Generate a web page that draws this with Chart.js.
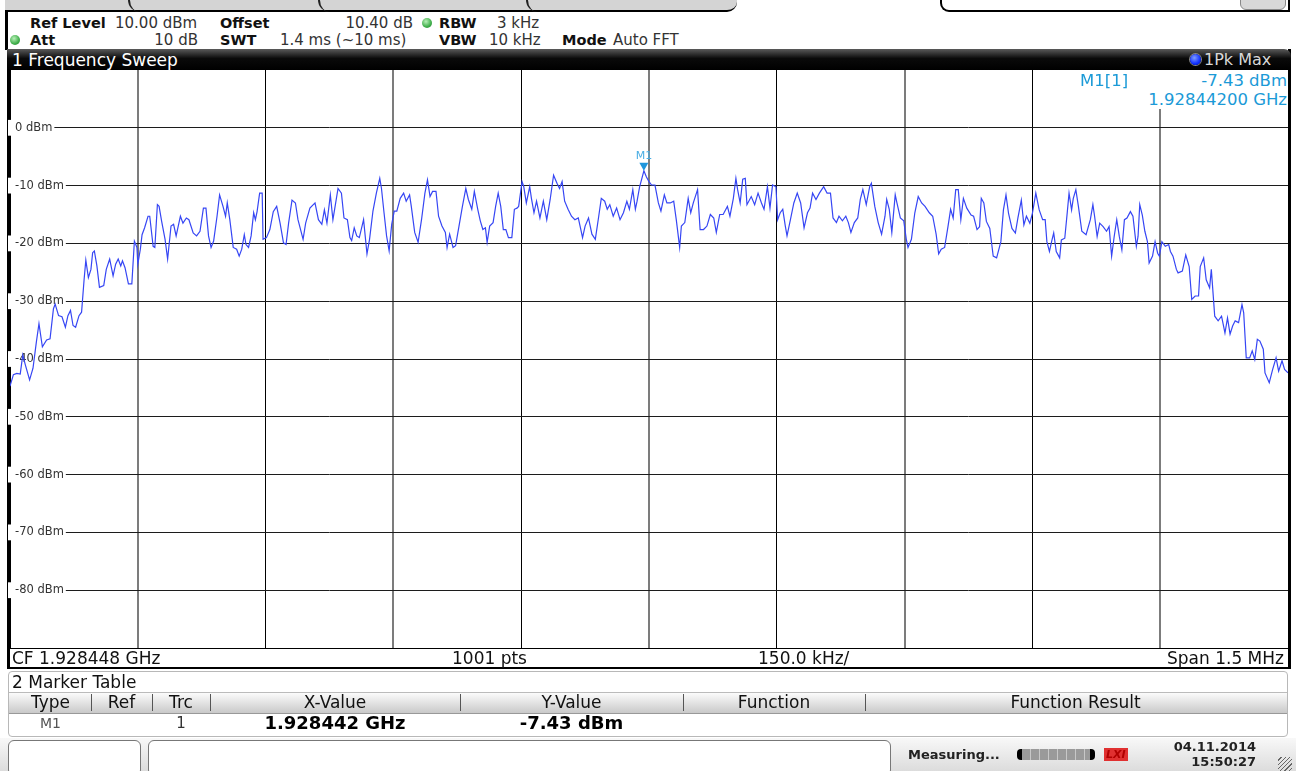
<!DOCTYPE html>
<html>
<head>
<meta charset="utf-8">
<title>1 Frequency Sweep</title>
<script src="https://cdn.jsdelivr.net/npm/chart.js@4.4.1/dist/chart.umd.min.js"></script>
<style>
  html, body { margin: 0; padding: 0; }
  body {
    width: 1296px; height: 771px; overflow: hidden; position: relative;
    background: #fff; font-family: "DejaVu Sans", sans-serif; color: #222;
  }
  .abs { position: absolute; white-space: nowrap; }
  .b { font-weight: bold; color: #111; }
  .hdr { font-size: 14.5px; line-height: 18px; }
  .hdr.n { font-size: 15px; color: #333; }
  .dot {
    position: absolute; width: 10px; height: 10px; border-radius: 50%;
    background: radial-gradient(circle at 40% 35%, #b8f0b8, #3fae4a 60%, #2a7f33);
  }
  .foot { font-size: 17px; line-height: 20px; color: #111; }
  .col { position: absolute; text-align: center; }
</style>
</head>
<body>

<!-- top tab strip -->
<div class="abs" style="left:5px;top:-2px;width:732px;height:12px;background:#d4d4d4;border-bottom:2px solid #000;border-bottom-right-radius:10px;"></div>
<div class="abs" style="left:128px;top:0;width:12px;height:12px;border-left:2px solid #222;border-bottom-left-radius:12px;"></div>
<div class="abs" style="left:318px;top:0;width:12px;height:12px;border-left:2px solid #222;border-bottom-left-radius:12px;"></div>
<div class="abs" style="left:526px;top:0;width:12px;height:12px;border-left:2px solid #222;border-bottom-left-radius:12px;"></div>
<div class="abs" style="left:940px;top:-10px;width:346px;height:20px;border:2px solid #000;border-top:none;border-bottom-left-radius:9px;background:#fff;"></div>
<div class="abs" style="left:1240px;top:-4px;width:44px;height:12px;background:#d8d8d8;border:1px solid #888;border-radius:0 0 6px 6px;"></div>

<!-- settings header -->
<div class="abs" style="left:5px;top:12px;width:3px;height:38px;background:#000;"></div>
<div class="abs hdr b" style="left:30px;top:14px;">Ref Level</div>
<div class="abs hdr n" style="left:115px;top:14px;">10.00 dBm</div>
<div class="abs hdr b" style="left:220px;top:14px;">Offset</div>
<div class="abs hdr n" style="right:883px;top:14px;">10.40 dB</div>
<div class="dot" style="left:422px;top:18px;"></div>
<div class="abs hdr b" style="left:439px;top:14px;">RBW</div>
<div class="abs hdr n" style="left:497px;top:14px;">3 kHz</div>

<div class="dot" style="left:10px;top:35px;"></div>
<div class="abs hdr b" style="left:30px;top:31px;">Att</div>
<div class="abs hdr n" style="right:1098px;top:31px;">10 dB</div>
<div class="abs hdr b" style="left:220px;top:31px;">SWT</div>
<div class="abs hdr n" style="left:280px;top:31px;">1.4 ms (~10 ms)</div>
<div class="abs hdr b" style="left:439px;top:31px;">VBW</div>
<div class="abs hdr n" style="left:489px;top:31px;">10 kHz</div>
<div class="abs hdr b" style="left:562px;top:31px;">Mode</div>
<div class="abs hdr n" style="left:613px;top:31px;">Auto FFT</div>

<!-- window frame + title bar -->
<div class="abs" style="left:7px;top:49px;width:1278px;height:618px;border-left:3px solid #000;border-right:3px solid #000;border-bottom:2px solid #000;"></div>
<div class="abs" style="left:7px;top:49px;width:1284px;height:21px;background:linear-gradient(#5a5a5a,#0a0a0a 45%,#000);border-top-right-radius:7px;"></div>
<div class="abs" style="left:12px;top:50px;font-size:17px;line-height:20px;color:#fff;">1 Frequency Sweep</div>
<div class="abs" style="left:1190px;top:54px;width:11px;height:11px;border-radius:50%;background:radial-gradient(circle at 40% 35%,#7f9bff,#1030ff 60%,#0018a8);box-shadow:0 0 0 1px #888;"></div>
<div class="abs" style="left:1204px;top:50px;font-size:16px;line-height:20px;color:#d8d8d8;">1Pk Max</div>

<!-- sweep diagram -->
<canvas id="sweepChart" width="1282" height="581" style="position:absolute;left:8px;top:69px;"></canvas>

<!-- marker readout -->
<div class="abs" style="left:1080px;top:71px;font-size:16.5px;line-height:19px;color:#1b9ad7;">M1[1]</div>
<div class="abs" style="left:1142px;top:70px;width:145px;height:39px;background:#fff;text-align:right;font-size:16.5px;line-height:19px;color:#1b9ad7;padding-top:1px;box-sizing:border-box;">-7.43 dBm<br>1.92844200 GHz</div>

<!-- sweep info bar -->
<div class="abs" style="left:10px;top:648px;width:1278px;height:1px;background:#000;"></div>
<div class="abs foot" style="left:12px;top:648px;">CF 1.928448 GHz</div>
<div class="abs foot" style="left:452px;top:648px;">1001 pts</div>
<div class="abs foot" style="left:758px;top:648px;">150.0 kHz/</div>
<div class="abs foot" style="right:12px;top:648px;">Span 1.5 MHz</div>

<!-- marker table -->
<div class="abs" style="left:8px;top:671px;width:1278px;height:64px;border:1px solid #b8b8b8;border-radius:4px;background:#fff;"></div>
<div class="abs foot" style="left:12px;top:672px;">2 Marker Table</div>
<div class="abs" style="left:9px;top:692px;width:1278px;height:20px;background:linear-gradient(#fbfbfb,#e2e2e2 50%,#c9c9c9);border-top:1px solid #bbb;border-bottom:1px solid #999;"></div>
<div id="mtable"></div>

<!-- status bar -->
<div class="abs" style="left:0;top:738px;width:1296px;height:33px;background:linear-gradient(#f8f8f8,#dcdcdc);"></div>
<div class="abs" style="left:8px;top:740px;width:131px;height:34px;background:#fff;border:1px solid #777;border-radius:6px;"></div>
<div class="abs" style="left:148px;top:740px;width:741px;height:34px;background:#fff;border:1px solid #777;border-radius:6px;"></div>
<div class="abs" style="left:908px;top:746px;font-size:13px;font-weight:bold;line-height:18px;color:#222;">Measuring...</div>
<div class="abs" style="left:1017px;top:749px;width:78px;height:11px;border-radius:4px;background:repeating-linear-gradient(90deg,#9a9a9a 0 8px,#c8c8c8 8px 9px);border-left:5px solid #000;border-right:5px solid #000;box-sizing:border-box;"></div>
<div class="abs" style="left:1104px;top:748px;font-size:11px;font-weight:bold;font-style:italic;line-height:13px;color:#b00000;background:#e03030;padding:0 2px;">LXI</div>
<div class="abs" style="right:40px;top:739px;font-size:13px;font-weight:bold;line-height:15px;color:#222;text-align:right;">04.11.2014<br>15:50:27</div>
<div class="abs" style="left:1278px;top:757px;width:14px;height:14px;background:repeating-linear-gradient(135deg,transparent 0 2px,#666 2px 3px);"></div>

<script>
// 扫描参数
const spanKHz = 1500;
const divKHz = 150;
const yTopDbm = 10;
const yBottomDbm = -90;
const yStepDb = 10;

// 迹线: 频率 (相对起始频率, kHz) 与电平 (dBm)
const sweepOffsetKHz = [
  0, 4, 8, 12, 15, 18, 23, 27, 31, 34,
  38, 43, 47, 51, 53, 57, 61, 65, 68, 71,
  74, 77, 81, 84, 87, 89, 92, 95, 97, 99,
  102, 105, 110, 113, 117, 121, 124, 127, 130, 132,
  135, 139, 143, 146, 149, 150, 153, 155, 158, 162,
  164, 168, 170, 173, 175, 178, 182, 185, 189, 192,
  195, 200, 203, 207, 210, 215, 219, 223, 227, 230,
  233, 236, 239, 243, 246, 250, 253, 255, 258, 262,
  266, 269, 272, 275, 277, 280, 283, 286, 288, 290,
  293, 296, 297, 301, 305, 309, 313, 317, 321, 324,
  327, 331, 335, 338, 344, 347, 352, 358, 362, 366,
  369, 372,
  376, 379, 381, 385, 389, 392, 396, 399, 401, 404,
  407, 410, 415, 419, 422, 426, 430, 434, 436, 439,
  442, 445, 448, 451, 454, 458, 462, 465, 469, 471,
  475, 479, 483, 487, 490, 493, 496, 500, 503, 507,
  511, 513, 516, 520, 523, 527, 531, 535, 538, 542,
  545, 549, 552, 555, 558, 560, 563, 567, 570, 573,
  576, 579, 582, 585, 589, 592, 595, 597, 601, 603,
  606, 610, 612, 615, 618, 622, 626, 630, 634, 638,
  642, 645, 648, 651, 655, 659, 663, 667, 670, 672,
  675, 679, 683, 687, 691, 694, 698, 701, 704, 708,
  712, 716, 720, 724, 727, 731, 734, 736, 739, 744,
  747, 750, 753,
  757, 761, 764, 768, 771, 775, 779, 782, 786, 788,
  792, 796, 799, 802, 807, 810, 814, 818, 822, 826,
  829, 833, 837, 842, 845, 849, 852, 854, 857, 860,
  863, 865, 870, 874, 878, 882, 885, 889, 892, 895,
  899, 901, 904, 907, 910, 912, 916, 920, 924, 928,
  932, 936, 939, 942, 946, 950, 955, 959, 963, 966,
  970, 973, 977, 981, 984, 987, 991, 995, 998, 1001,
  1005, 1009, 1011, 1015, 1019, 1023, 1027, 1029, 1032, 1035,
  1039, 1041, 1045, 1049, 1052, 1054, 1058, 1062, 1066, 1070,
  1074, 1079, 1083, 1087, 1090, 1093, 1097, 1101, 1104, 1107,
  1110, 1113, 1116, 1119, 1123,
  1128, 1131, 1135, 1138, 1140, 1143, 1146, 1150, 1154, 1158,
  1163, 1166, 1169, 1172, 1176, 1180, 1183, 1187, 1190, 1193,
  1197, 1200, 1204, 1208, 1212, 1215, 1217, 1220, 1223, 1225,
  1228, 1232, 1234, 1238, 1241, 1243, 1246, 1248, 1251, 1254,
  1258, 1263, 1268, 1271, 1273, 1276, 1279, 1283, 1287, 1290,
  1293, 1296, 1299, 1302, 1305, 1308, 1311, 1315, 1318, 1322,
  1324, 1326, 1329, 1332, 1335, 1337, 1341, 1344, 1347, 1349,
  1352, 1356, 1360, 1362, 1365, 1369, 1371, 1376, 1380, 1384,
  1387, 1391, 1395, 1397, 1401, 1404, 1408, 1410, 1414, 1418,
  1422, 1426, 1429, 1432, 1435, 1438, 1442, 1446, 1448, 1451,
  1455, 1458, 1461, 1464, 1467, 1471, 1473, 1478, 1482, 1486,
  1489, 1493, 1496, 1500
];

const sweepLevelDbm = [
  -44.7, -42.7, -42.5, -42.6, -39.3, -41.0, -43.6, -41.6, -37.0, -33.9,
  -37.9, -36.7, -36.5, -31.3, -30.5, -32.5, -32.7, -34.5, -32.5, -31.6,
  -34.2, -34.5, -32.5, -31.9, -26.2, -22.9, -25.9, -24.5, -21.6, -21.3,
  -23.9, -27.6, -27.3, -24.5, -22.7, -25.6, -23.6, -22.7, -23.9, -23.0,
  -24.2, -27.0, -27.0, -19.6, -20.7, -23.6, -21.0, -18.5, -17.3, -15.3,
  -15.3, -20.5, -20.7, -13.3, -13.6, -16.2, -19.3, -22.7, -17.0, -16.7,
  -18.7, -15.3, -16.5, -15.6, -15.9, -18.2, -18.7, -17.9, -13.9, -13.9,
  -18.7, -20.7, -19.6, -15.3, -11.6, -13.6, -15.3, -13.0, -15.9, -20.7,
  -21.0, -22.2, -21.0, -18.5, -20.2, -20.7, -18.7, -14.7, -15.9, -14.5,
  -11.3, -11.3, -19.3, -19.0, -17.6, -14.5, -13.6, -16.5, -19.9, -20.2,
  -16.5, -12.5, -13.0, -15.9, -19.3, -16.5, -13.9, -13.0, -15.9, -16.7,
  -14.2, -16.5,
  -11.6, -15.9, -14.1, -10.5, -11.3, -15.6, -15.9, -19.0, -19.5, -17.3,
  -18.7, -19.0, -15.9, -21.8, -19.3, -14.4, -11.3, -8.75, -10.5, -14.7,
  -18.7, -21.3, -16.7, -14.4, -14.4, -12.2, -11.3, -12.7, -11.6, -13.6,
  -18.1, -19.8, -15.9, -11.3, -9.0, -11.9, -11.0, -11.0, -15.3, -17.0,
  -18.1, -20.7, -18.4, -20.7, -20.4, -17.0, -13.6, -10.5, -12.4, -14.1,
  -11.0, -14.1, -16.1, -17.6, -17.3, -19.8, -17.0, -16.4, -13.6, -11.3,
  -13.6, -17.6, -17.6, -19.0, -19.0, -14.1, -13.9, -13.6, -9.3, -10.2,
  -13.0, -10.2, -12.2, -14.7, -12.7, -15.6, -12.7, -15.9, -12.4, -8.2,
  -9.6, -10.5, -9.3, -12.7, -14.1, -15.3, -15.9, -15.6, -17.6, -19.0,
  -17.0, -15.6, -18.4, -19.3, -15.3, -12.2, -12.7, -14.1, -13.3, -15.3,
  -13.9, -15.9, -14.7, -12.7, -14.1, -10.7, -14.1, -12.7, -10.2, -7.43,
  -8.5, -9.3, -9.9,
  -9.9, -13.0, -14.4, -11.6, -13.0, -13.0, -12.7, -15.9, -20.7, -17.0,
  -16.4, -12.2, -14.7, -13.0, -10.7, -17.6, -17.6, -17.0, -15.0, -15.6,
  -18.1, -15.0, -15.0, -13.6, -15.3, -12.2, -8.75, -10.7, -13.0, -8.9,
  -8.75, -13.3, -11.9, -13.3, -11.3, -13.0, -14.1, -10.2, -13.9, -9.9,
  -10.2, -15.9, -14.7, -14.1, -17.0, -18.7, -15.9, -13.0, -11.3, -13.0,
  -17.3, -14.7, -13.9, -11.3, -12.4, -11.3, -10.2, -11.3, -11.3, -15.6,
  -16.4, -15.3, -16.1, -15.3, -16.4, -18.1, -16.4, -15.6, -12.4, -10.7,
  -13.3, -10.2, -9.6, -13.6, -16.4, -18.4, -15.3, -12.4, -14.1, -18.1,
  -11.6, -13.0, -15.6, -16.1, -19.3, -20.7, -19.3, -14.7, -11.9, -13.0,
  -13.6, -14.7, -15.3, -18.4, -21.8, -21.0, -20.7, -17.0, -14.1, -15.6,
  -10.7, -10.7, -15.9, -12.2, -13.9,
  -15.1, -15.3, -17.6, -17.1, -12.2, -13.0, -16.2, -17.4, -22.2, -22.5,
  -19.7, -14.2, -11.6, -14.8, -17.4, -18.2, -15.6, -12.5, -16.8, -15.3,
  -16.5, -14.8, -11.3, -14.2, -15.9, -15.9, -19.7, -21.4, -19.4, -18.2,
  -21.4, -22.5, -19.4, -19.1, -14.5, -11.3, -14.2, -12.2, -10.7, -13.6,
  -17.9, -18.5, -15.9, -13.3, -15.3, -18.8, -16.5, -17.1, -17.9, -17.1,
  -22.2, -18.8, -15.9, -18.8, -21.1, -15.9, -15.6, -14.5, -15.3, -20.5,
  -18.8, -13.3, -15.1, -17.9, -19.7, -23.4, -22.2, -19.7, -21.7, -22.2,
  -19.7, -20.5, -20.2, -21.4, -22.2, -24.5, -25.1, -24.8, -22.0, -24.0,
  -29.7, -29.1, -29.1, -24.0, -22.5, -26.3, -27.7, -24.5, -32.6, -33.4,
  -32.6, -35.5, -32.9, -35.7, -34.3, -33.4, -33.7, -30.6, -32.0, -39.8,
  -39.8, -38.6, -40.1, -36.6, -36.9, -38.3, -42.4, -44.1, -41.8, -39.8,
  -42.1, -40.3, -41.8, -42.4
];

// 标记 M1 (1.928442 GHz, 起始频率 1.927698 GHz)
const markerName = 'M1';
const markerOffsetKHz = 744;
const markerLevelDbm = -7.43;

// 标记表
const tableColumns = ['Type', 'Ref', 'Trc', 'X-Value', 'Y-Value', 'Function', 'Function Result'];
const tableRow = ['M1', '', '1', '1.928442 GHz', '-7.43 dBm', '', ''];
const columnEdges = [10, 91, 152, 210, 460, 683, 865, 1286];

function buildMarkerTable() {
  const host = document.getElementById('mtable');
  let html = '';
  for (let i = 0; i < tableColumns.length; i++) {
    const left = columnEdges[i];
    const width = columnEdges[i + 1] - columnEdges[i];
    html += '<div class="col" style="left:' + left + 'px;top:692px;width:' + width +
      'px;font-size:17px;line-height:20px;color:#111;">' + tableColumns[i] + '</div>';
    if (i > 0) {
      html += '<div class="abs" style="left:' + left + 'px;top:694px;width:1px;height:17px;background:#555;"></div>';
    }
    const bold = (i === 3 || i === 4);
    const style = bold ? 'font-size:18px;font-weight:bold;color:#000;' :
      (i === 0 ? 'font-size:14px;color:#555;' : 'font-size:15px;color:#333;');
    html += '<div class="col" style="left:' + left + 'px;top:713px;width:' + width +
      'px;line-height:20px;' + style + '">' + tableRow[i] + '</div>';
  }
  host.innerHTML = html;
}

// 标记三角与标签
const markerPlugin = {
  id: 'markerPlugin',
  afterDatasetsDraw(chart) {
    const ctx = chart.ctx;
    const px = chart.scales.x.getPixelForValue(markerOffsetKHz);
    const py = chart.scales.y.getPixelForValue(markerLevelDbm);
    ctx.save();
    ctx.fillStyle = '#1e96dc';
    ctx.beginPath();
    ctx.moveTo(px, py);
    ctx.lineTo(px - 4.5, py - 8);
    ctx.lineTo(px + 4.5, py - 8);
    ctx.closePath();
    ctx.fill();
    ctx.font = '11px "DejaVu Sans"';
    ctx.fillStyle = '#4aaee4';
    ctx.textAlign = 'center';
    ctx.textBaseline = 'bottom';
    ctx.fillText(markerName, px, py - 9);
    ctx.restore();
  }
};

// 坐标轴不占用额外空间 (标签画在图内)
function noAxisSpace(scale) {
  scale.paddingTop = 0;
  scale.paddingBottom = 0;
  scale.paddingLeft = 0;
  scale.paddingRight = 0;
  if (scale.isHorizontal()) {
    scale.height = 0;
  } else {
    scale.width = 0;
  }
}

function createSweepChart() {
  const ctx = document.getElementById('sweepChart').getContext('2d');
  const points = sweepOffsetKHz.map((k, i) => ({ x: k, y: sweepLevelDbm[i] }));

  return new Chart(ctx, {
    type: 'line',
    data: {
      datasets: [{
        label: '1Pk Max',
        data: points,
        borderColor: '#3646f4',
        borderWidth: 1.2,
        pointRadius: 0,
        tension: 0,
        fill: false
      }]
    },
    options: {
      responsive: false,
      animation: false,
      devicePixelRatio: 1,
      layout: { padding: { left: 2, right: 2, top: 1, bottom: 2 } },
      plugins: {
        legend: { display: false },
        tooltip: { enabled: false }
      },
      scales: {
        x: {
          type: 'linear',
          min: 0,
          max: spanKHz,
          afterFit: noAxisSpace,
          border: { display: false },
          grid: {
            drawTicks: false,
            color: c => (c.index % 2 ? '#7c7c7c' : '#000'),
            lineWidth: c => (c.index % 2 ? 2 : 1)
          },
          ticks: { display: false, stepSize: divKHz }
        },
        y: {
          min: yBottomDbm,
          max: yTopDbm,
          afterFit: noAxisSpace,
          border: { display: false },
          grid: { drawTicks: false, color: '#1c1c1c', lineWidth: 1 },
          ticks: {
            stepSize: yStepDb,
            mirror: true,
            padding: 5,
            color: '#333',
            font: { family: 'DejaVu Sans', size: 11.5 },
            showLabelBackdrop: true,
            backdropColor: '#fff',
            backdropPadding: { left: 7, right: 2, top: 1, bottom: 1 },
            callback: function (value) {
              if (value >= yTopDbm || value <= yBottomDbm) return null;
              return value + ' dBm';
            }
          }
        }
      }
    },
    plugins: [markerPlugin]
  });
}

document.addEventListener('DOMContentLoaded', () => {
  buildMarkerTable();
  createSweepChart();
});
</script>
</body>
</html>
